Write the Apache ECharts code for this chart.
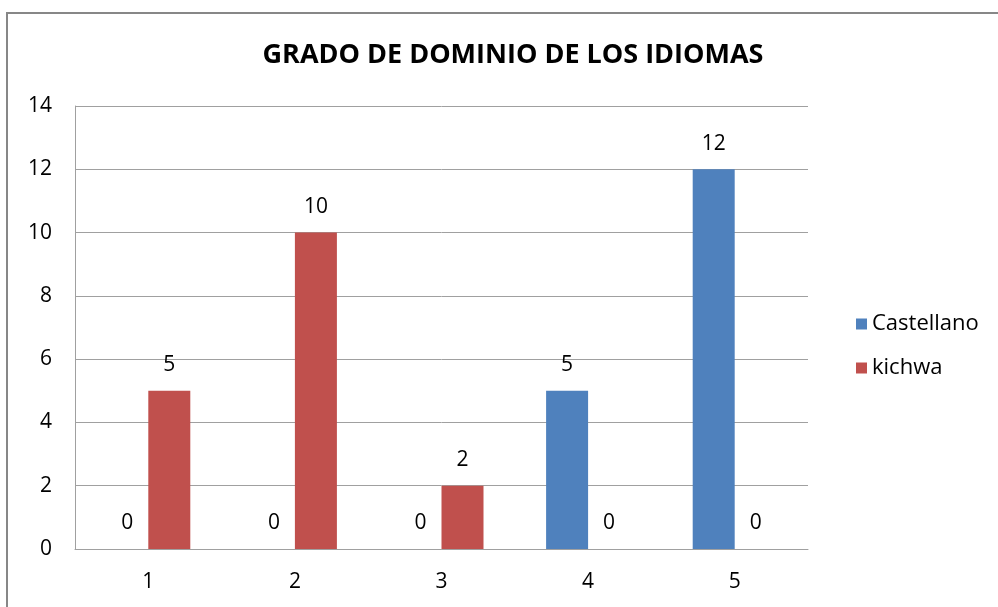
<!DOCTYPE html>
<html lang="es">
<head>
    <meta charset="UTF-8">
    <title>Grado de dominio de los idiomas</title>
    <style>
        html, body { margin: 0; padding: 0; background: #fff; }
    </style>
</head>
<body>
<div class="main" style="width: 998px;height: 607px;"></div>
<script src="https://cdn.jsdelivr.net/npm/echarts@6/dist/echarts.min.js"></script>
<script>
    // datos
    var categorias = ['1', '2', '3', '4', '5'];
    var castellano = [0, 0, 0, 5, 12];
    var kichwa = [5, 10, 2, 0, 0];

    var fuente = 'Open Sans, Liberation Sans, sans-serif';

    var main = document.querySelector(".main");
    var mainEcharts = echarts.init(main);

    var etiqueta = {
        show: true,
        position: 'top',
        distance: 15,
        color: '#000',
        fontSize: 21,
        fontFamily: fuente
    };

    var option = {
        animation: false,
        title: {
            text: 'GRADO DE DOMINIO DE LOS IDIOMAS',
            left: 508,
            textAlign: 'center',
            top: 37,
            textStyle: {
                fontFamily: fuente,
                fontWeight: 'bold',
                fontSize: 27,
                color: '#000'
            }
        },
        graphic: [{
            type: 'rect',
            shape: { x: 7, y: 13, width: 1100, height: 700 },
            style: { fill: 'none', stroke: '#878787', lineWidth: 2 },
            silent: true
        }],
        legend: {
            orient: 'vertical',
            left: 851,
            top: 308,
            itemWidth: 11,
            itemHeight: 11,
            itemGap: 22,
            icon: 'rect',
            textStyle: { fontFamily: fuente, fontSize: 22, color: '#000' },
            data: ['Castellano', 'kichwa']
        },
        grid: {
            left: 75,
            top: 106,
            width: 733,
            height: 443,
            containLabel: false
        },
        xAxis: {
            type: 'category',
            data: categorias,
            axisLine: { lineStyle: { color: '#a0a0a0', width: 1 } },
            axisTick: { show: false },
            axisLabel: { color: '#000', fontSize: 21, fontFamily: fuente, margin: 23 }
        },
        yAxis: {
            type: 'value',
            min: 0,
            max: 14,
            interval: 2,
            axisLine: { show: true, lineStyle: { color: '#a0a0a0', width: 1 } },
            axisTick: { show: false },
            splitLine: { lineStyle: { color: '#a0a0a0', width: 1 } },
            axisLabel: { color: '#000', fontSize: 21, fontFamily: fuente, margin: 23 }
        },
        series: [
            {
                name: 'Castellano',
                type: 'bar',
                data: castellano,
                barWidth: 42,
                barGap: '0%',
                itemStyle: { color: '#4F81BD' },
                label: etiqueta
            },
            {
                name: 'kichwa',
                type: 'bar',
                data: kichwa,
                barWidth: 42,
                barGap: '0%',
                itemStyle: { color: '#C0504D' },
                label: etiqueta
            }
        ]
    };
    mainEcharts.setOption(option);
</script>
</body>
</html>
